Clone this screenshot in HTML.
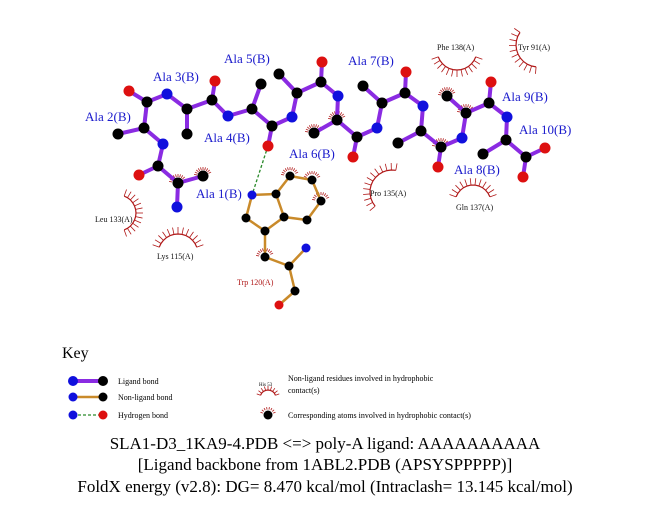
<!DOCTYPE html>
<html><head><meta charset="utf-8"><style>
html,body{margin:0;padding:0;background:#fff;}
svg{display:block;font-family:"Liberation Serif",serif;}
.bl{fill:#1a1acc;font-size:13px;}
.sm{fill:#111;font-size:8px;}
</style></head><body>
<svg id="s" width="651" height="511" viewBox="0 0 651 511" xmlns="http://www.w3.org/2000/svg">
<g id="arcs" stroke="#b01818" stroke-width="1.2" fill="none"></g>
<g id="ticks" stroke="#b01818" stroke-width="0.8"></g>
<g id="bonds" stroke-linecap="round"></g>
<line x1="268" y1="146" x2="252" y2="195" stroke="#2a8a2a" stroke-width="1.3" stroke-dasharray="3,2"/>
<g id="atoms"></g>
<text class="bl" x="153" y="81">Ala 3(B)</text>
<text class="bl" x="224" y="63">Ala 5(B)</text>
<text class="bl" x="85" y="121">Ala 2(B)</text>
<text class="bl" x="204" y="142">Ala 4(B)</text>
<text class="bl" x="289" y="158">Ala 6(B)</text>
<text class="bl" x="196" y="198">Ala 1(B)</text>
<text class="bl" x="348" y="65">Ala 7(B)</text>
<text class="bl" x="502" y="101">Ala 9(B)</text>
<text class="bl" x="519" y="134">Ala 10(B)</text>
<text class="bl" x="454" y="174">Ala 8(B)</text>
<text class="sm" x="437" y="50">Phe 138(A)</text>
<text class="sm" x="518" y="50">Tyr 91(A)</text>
<text class="sm" x="370" y="196">Pro 135(A)</text>
<text class="sm" x="456" y="210">Gln 137(A)</text>
<text class="sm" x="95" y="222">Leu 133(A)</text>
<text class="sm" x="157" y="259">Lys 115(A)</text>
<text x="237" y="285" style="fill:#b01818;font-size:8px">Trp 120(A)</text>
<text x="62" y="358" style="font-size:16px">Key</text>
<line x1="73" y1="381" x2="103" y2="381" stroke="#8a2be2" stroke-width="4"/>
<circle cx="73" cy="381" r="5" fill="#1010dd"/><circle cx="103" cy="381" r="5" fill="#000"/>
<line x1="73" y1="397" x2="103" y2="397" stroke="#c98a2a" stroke-width="2.5"/>
<circle cx="73" cy="397" r="4.5" fill="#1010dd"/><circle cx="103" cy="397" r="4.5" fill="#000"/>
<line x1="73" y1="415" x2="103" y2="415" stroke="#2a8a2a" stroke-width="1.2" stroke-dasharray="3,2"/>
<circle cx="73" cy="415" r="4.5" fill="#1010dd"/><circle cx="103" cy="415" r="4.5" fill="#dd1010"/>
<text x="118" y="384" style="font-size:8px">Ligand bond</text>
<text x="118" y="400" style="font-size:8px">Non-ligand bond</text>
<text x="118" y="418" style="font-size:8px">Hydrogen bond</text>
<text x="259" y="386" style="font-size:5px">His 53</text>
<text x="288" y="381" style="font-size:8px">Non-ligand residues involved in hydrophobic</text>
<text x="288" y="393" style="font-size:8px">contact(s)</text>
<circle cx="268" cy="415" r="4.5" fill="#000"/>
<text x="288" y="418" style="font-size:8px">Corresponding atoms involved in hydrophobic contact(s)</text>
<text x="325" y="449" text-anchor="middle" style="font-size:17px">SLA1-D3_1KA9-4.PDB &lt;=&gt; poly-A ligand: AAAAAAAAAA</text>
<text x="325" y="470" text-anchor="middle" style="font-size:17px">[Ligand backbone from 1ABL2.PDB (APSYSPPPPP)]</text>
<text x="325" y="492" text-anchor="middle" style="font-size:17px">FoldX energy (v2.8): DG= 8.470 kcal/mol (Intraclash= 13.145 kcal/mol)</text>
</svg>
<script>
var NS="http://www.w3.org/2000/svg";
function el(p,t,a){var e=document.createElementNS(NS,t);for(var k in a)e.setAttribute(k,a[k]);document.getElementById(p).appendChild(e);return e;}
var P=[[[129,91],[147,102],[167,94],[187,109],[212,100],[228,116],[252,109],[272,126],[292,117],[297,93],[321,82],[338,96],[337,120],[357,137],[377,128],[382,103],[405,93],[423,106],[421,131],[441,147],[462,138],[466,113],[489,103],[507,117],[506,140],[526,157],[545,148]],
 [[147,102],[144,128],[163,144],[158,166],[178,183],[177,207]]];
var side=[[[187,109],[187,134]],[[252,109],[261,84]],[[272,126],[268,146]],[[297,93],[279,74]],[[321,82],[322,62]],[[212,100],[215,81]],[[337,120],[314,133]],[[357,137],[353,157]],[[382,103],[363,86]],[[405,93],[406,72]],[[421,131],[398,143]],[[441,147],[438,167]],[[466,113],[447,96]],[[489,103],[491,82]],[[506,140],[483,154]],[[526,157],[523,177]],[[144,128],[118,134]],[[158,166],[139,175]],[[178,183],[203,176]]];
function bond(a,b,c,w){el("bonds","line",{x1:a[0],y1:a[1],x2:b[0],y2:b[1],stroke:c,"stroke-width":w});}
var pu="#8a2be2";
P.forEach(function(ch){for(var i=0;i<ch.length-1;i++)bond(ch[i],ch[i+1],pu,4);});
side.forEach(function(s){bond(s[0],s[1],pu,4);});
var T=[[252,195],[276,194],[284,217],[265,231],[246,218],[252,195]],T2=[[276,194],[290,176],[312,180],[321,201],[307,220],[284,217]],T3=[[265,231],[265,257],[289,266],[295,291],[279,305]];
var og="#c98a2a";
[T,T2,T3].forEach(function(ch){for(var i=0;i<ch.length-1;i++)bond(ch[i],ch[i+1],og,2.5);});
bond([289,266],[306,248],og,2.5);
var blue=[[167,94],[228,116],[292,117],[338,96],[377,128],[423,106],[462,138],[507,117],[163,144],[177,207]];
var red=[[129,91],[215,81],[268,146],[322,62],[353,157],[406,72],[438,167],[491,82],[545,148],[523,177],[139,175]];
var blk=[[147,102],[187,109],[187,134],[212,100],[252,109],[261,84],[272,126],[297,93],[279,74],[321,82],[337,120],[314,133],[357,137],[382,103],[363,86],[405,93],[421,131],[398,143],[441,147],[466,113],[447,96],[489,103],[506,140],[483,154],[526,157],[144,128],[118,134],[158,166],[178,183],[203,176]];
blk.forEach(function(p){el("atoms","circle",{cx:p[0],cy:p[1],r:5.5,fill:"#000"});});
blue.forEach(function(p){el("atoms","circle",{cx:p[0],cy:p[1],r:5.5,fill:"#1010dd"});});
red.forEach(function(p){el("atoms","circle",{cx:p[0],cy:p[1],r:5.5,fill:"#dd1010"});});
[[276,194],[284,217],[265,231],[246,218],[290,176],[312,180],[321,201],[307,220],[265,257],[289,266],[295,291]].forEach(function(p){el("atoms","circle",{cx:p[0],cy:p[1],r:4.5,fill:"#000"});});
el("atoms","circle",{cx:252,cy:195,r:4.5,fill:"#1010dd"});el("atoms","circle",{cx:306,cy:248,r:4.5,fill:"#1010dd"});el("atoms","circle",{cx:279,cy:305,r:4.5,fill:"#dd1010"});
function arc(cx,cy,r,a0,a1,n,L){var d="";for(var i=0;i<=n;i++){var a=(a0+(a1-a0)*i/n)*Math.PI/180,x=cx+r*Math.cos(a),y=cy+r*Math.sin(a);d+=(i?"L":"M")+x.toFixed(1)+" "+y.toFixed(1);
el("ticks","line",{x1:x,y1:y,x2:cx+(r+L)*Math.cos(a),y2:cy+(r+L)*Math.sin(a)});}el("arcs","path",{d:d});}
arc(457,50,20,20,160,12,7);
arc(538,45,22,95,215,10,7);
arc(392,192,22,140,280,12,7);
arc(473,203,18,200,340,11,7);
arc(118,213,18,-70,70,12,7);
arc(178,254,20,200,340,12,7);
arc(268,398,8,200,340,8,4);
[[178,183],[203,176],[314,133],[337,120],[290,176],[312,180],[321,201],[265,257],[447,96],[466,113],[441,147]].forEach(function(p){for(var i=0;i<10;i++){var a=(190+i*16)*Math.PI/180;el("ticks","line",{x1:p[0]+6*Math.cos(a),y1:p[1]+6*Math.sin(a),x2:p[0]+9*Math.cos(a),y2:p[1]+9*Math.sin(a)});}});
(function(){var p=[268,415];for(var i=0;i<8;i++){var a=(200+i*20)*Math.PI/180;el("ticks","line",{x1:p[0]+5.5*Math.cos(a),y1:p[1]+5.5*Math.sin(a),x2:p[0]+8*Math.cos(a),y2:p[1]+8*Math.sin(a)});}})();
</script>
</body></html>
